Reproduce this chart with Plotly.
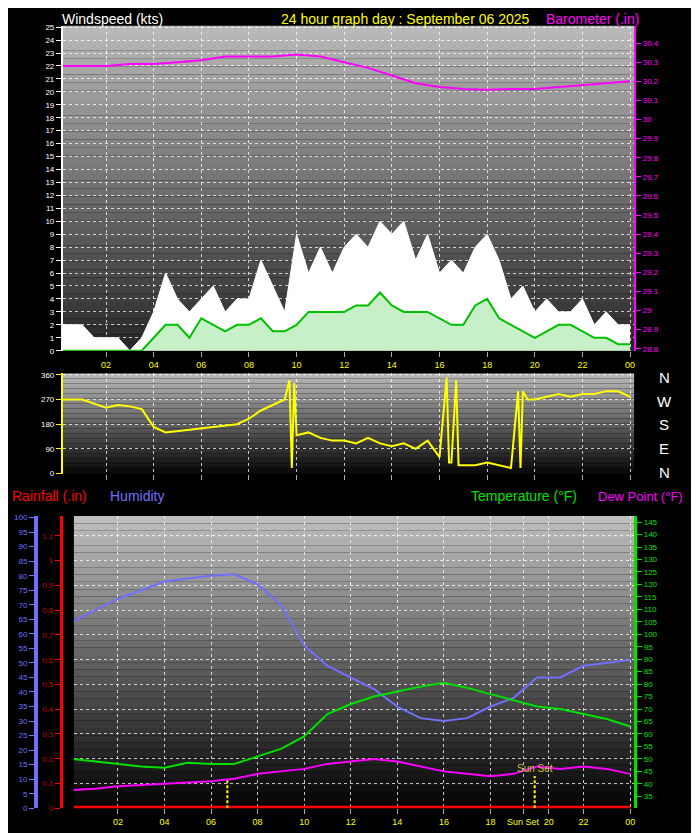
import plotly.graph_objects as go

# ---------------- data ----------------
hours = [i * 0.5 for i in range(49)]
gust = [2, 2, 2, 1, 1, 1, 0, 1, 3, 6, 4, 3, 4, 5, 3, 4, 4, 7, 5, 3,
        9, 6, 8, 6, 8, 9, 8, 10, 9, 10, 7, 9, 6, 7, 6, 8, 9, 7, 4, 5,
        3, 4, 3, 3, 4, 2, 3, 2, 2]
avg = [0, 0, 0, 0, 0, 0, 0, 0, 1, 2, 2, 1, 2.5, 2, 1.5, 2, 2, 2.5, 1.5, 1.5,
       2, 3, 3, 3, 3, 3.5, 3.5, 4.5, 3.5, 3, 3, 3, 2.5, 2, 2, 3.5, 4, 2.5, 2, 1.5,
       1, 1.5, 2, 2, 1.5, 1, 1, 0.5, 0.5]
baro_h = list(range(25))
baro = [30.28, 30.28, 30.28, 30.29, 30.29, 30.30, 30.31, 30.33, 30.33, 30.33, 30.34,
        30.33, 30.30, 30.27, 30.23, 30.19, 30.17, 30.16, 30.155, 30.16, 30.16,
        30.17, 30.18, 30.19, 30.20]
dir_h = [0, 1, 1.5, 2, 2.5, 3, 3.5, 4, 4.5, 5, 5.5, 6, 6.5, 7, 7.5, 8, 8.5, 9, 9.5,
         9.7, 9.8, 9.9, 10, 10.5, 11, 11.5, 12, 12.5, 13, 13.5, 14, 14.5, 15, 15.5,
         16, 16.3, 16.4, 16.5, 16.7, 16.8, 17, 17.5, 18, 18.5, 19, 19.3, 19.4, 19.5,
         19.7, 20, 20.5, 21, 21.5, 22, 22.5, 23, 23.5, 24]
wdir = [270, 270, 255, 240, 250, 245, 235, 170, 150, 155, 160, 165, 170, 175, 180,
        200, 230, 250, 270, 340, 20, 330, 140, 150, 130, 120, 120, 110, 130, 110,
        100, 110, 90, 120, 60, 350, 40, 40, 340, 30, 30, 30, 40, 30, 20, 300, 20,
        300, 270, 270, 280, 290, 280, 290, 290, 300, 300, 280]
th = list(range(25))
humidity = [64, 68, 72, 75, 78, 79, 80, 80.5, 77, 70, 56, 49, 45, 41, 35, 31, 30,
            31, 35, 38, 45, 45, 49, 50, 51]
temp = [50, 49, 48, 47, 46.5, 48.5, 48, 48, 51, 54, 59, 68, 72, 75, 77, 79, 80.5,
        78.5, 76, 73.5, 71, 70, 68, 66, 63]
dew = [37.5, 38, 39, 39.5, 40, 40.5, 41, 42, 44, 45, 46, 48, 49, 50, 49, 47, 45,
       44, 43, 44, 47, 46, 47, 46, 44]
rain = [0] * 25
xticks_top = [2, 4, 6, 8, 10, 12, 14, 16, 18, 20, 22, 24]
xlabels_top = ["02", "04", "06", "08", "10", "12", "14", "16", "18", "20", "22", "00"]
xticks_bot = [2, 4, 6, 8, 10, 12, 14, 16, 18, 19.4, 20.5, 22, 24]
xlabels_bot = ["02", "04", "06", "08", "10", "12", "14", "16", "18", "Sun Set", "20", "22", "00"]
sunrise, sunset = 6.7, 19.9

W, H = 699, 833
def px(x): return x / W
def py(y): return 1 - y / H

FONT = "Liberation Sans"
fig = go.Figure()

# ---- top panel ----
fig.add_trace(go.Scatter(x=hours, y=gust, mode="lines", line=dict(color="white", width=1),
                         fill="tozeroy", fillcolor="white", xaxis="x", yaxis="y"))
fig.add_trace(go.Scatter(x=hours, y=avg, mode="lines", line=dict(color="#00c000", width=2),
                         fill="tozeroy", fillcolor="#c8f0c8", xaxis="x", yaxis="y"))
fig.add_trace(go.Scatter(x=baro_h, y=baro, mode="lines", line=dict(color="#ff00ff", width=2),
                         xaxis="x", yaxis="y2"))
# ---- middle panel ----
fig.add_trace(go.Scatter(x=dir_h, y=wdir, mode="lines", line=dict(color="yellow", width=2),
                         xaxis="x2", yaxis="y3"))
# ---- bottom panel ----
fig.add_trace(go.Scatter(x=th, y=humidity, mode="lines", line=dict(color="#7070ff", width=2),
                         xaxis="x3", yaxis="y4"))
fig.add_trace(go.Scatter(x=th, y=temp, mode="lines", line=dict(color="#00e000", width=2),
                         xaxis="x3", yaxis="y6"))
fig.add_trace(go.Scatter(x=th, y=dew, mode="lines", line=dict(color="#ff00ff", width=2),
                         xaxis="x3", yaxis="y6"))
fig.add_trace(go.Scatter(x=th, y=rain, mode="lines", line=dict(color="red", width=5),
                         xaxis="x3", yaxis="y5"))
fig.add_trace(go.Scatter(x=[sunrise, sunrise], y=[0, 0.12], mode="lines",
                         line=dict(color="yellow", width=2, dash="3px,2px"), xaxis="x3", yaxis="y5"))
fig.add_trace(go.Scatter(x=[sunset, sunset], y=[0, 0.13], mode="lines",
                         line=dict(color="yellow", width=2, dash="3px,2px"), xaxis="x3", yaxis="y5"))

# gradient backgrounds
shapes = []
def gradient(x0, x1, y0, y1, top, bottom, n=40):
    for i in range(n):
        f = i / (n - 1)
        c = int(top + (bottom - top) * f)
        ya = y0 + (y1 - y0) * i / n
        yb = y0 + (y1 - y0) * (i + 1) / n
        shapes.append(dict(type="rect", xref="paper", yref="paper", x0=px(x0), x1=px(x1),
                           y0=py(ya), y1=py(yb), fillcolor=f"rgb({c},{c},{c})",
                           line=dict(width=0), layer="below"))
gradient(55, 627, 15, 343, 185, 40)
gradient(55, 627, 366, 467, 185, 10)
gradient(66, 627, 510, 805, 190, 5)

tf = dict(family=FONT, size=8)
gridc = "rgba(255,255,255,0.75)"
common_x = dict(showgrid=True, gridcolor=gridc, griddash="dot", tickmode="array", tickangle=0,
                ticks="outside", tickcolor="#aaaaaa", zeroline=False,
                tickfont=dict(family=FONT, size=9, color="yellow"))
fig.update_layout(
    width=W, height=H, margin=dict(l=0, r=0, t=0, b=0),
    paper_bgcolor="black", plot_bgcolor="rgba(0,0,0,0)", showlegend=False, shapes=shapes,
    xaxis=dict(domain=[px(55), px(627)], range=[0.19, 24.17], anchor="y",
               tickvals=xticks_top, ticktext=xlabels_top, **common_x),
    yaxis=dict(domain=[py(343), py(15)], range=[0, 25.1], dtick=1, showgrid=True, gridcolor=gridc,
               griddash="dot", ticks="outside", tickcolor="white", showline=True, linecolor="white",
               linewidth=2, tickfont=dict(color="white", **tf), zeroline=False),
    yaxis2=dict(overlaying="y", side="right", range=[28.79, 30.49], dtick=0.1, showgrid=False,
                ticks="outside", tickcolor="#ff00ff", showline=True, linecolor="#ff00ff", linewidth=2,
                tickfont=dict(color="#ff00ff", **tf), zeroline=False),
    xaxis2=dict(domain=[px(55), px(627)], range=[0.19, 24.17], anchor="y3",
                tickvals=xticks_top, ticktext=[""] * len(xticks_top), **{k: v for k, v in common_x.items() if k != "tickfont"}),
    yaxis3=dict(domain=[py(467), py(366)], range=[0, 365], tickvals=[0, 90, 180, 270, 360],
                showgrid=True, gridcolor=gridc, griddash="dot", ticks="outside", tickcolor="yellow",
                showline=True, linecolor="yellow", linewidth=2, tickfont=dict(color="white", **tf),
                zeroline=False),
    xaxis3=dict(domain=[px(66), px(627)], range=[0.11, 24.17], anchor="y5",
                tickvals=xticks_bot, ticktext=xlabels_bot, **common_x),
    yaxis4=dict(anchor="free", position=px(28), range=[0, 100.5], dtick=5, showgrid=False,
                ticks="outside", tickcolor="#7070ff", showline=True, linecolor="#7070ff", linewidth=4,
                tickfont=dict(color="#7070ff", **tf), zeroline=False, overlaying="y5"),
    yaxis5=dict(domain=[py(805), py(510)], range=[0, 1.18], dtick=0.1, showgrid=True,
                gridcolor=gridc, griddash="dot", ticks="outside", tickcolor="red", showline=True,
                linecolor="red", linewidth=3, tickfont=dict(color="#c00000", **tf), zeroline=False,
                tickvals=[0.1 * i for i in range(12)],
                ticktext=["0", "0.1", "0.2", "0.3", "0.4", "0.5", "0.6", "0.7", "0.8", "0.9", "1", "1.1"]),
    yaxis6=dict(overlaying="y5", side="right", anchor="x3", range=[30.2, 147.4], dtick=5, showgrid=False,
                ticks="outside", tickcolor="#00e000", showline=True, linecolor="#00e000", linewidth=3,
                tickfont=dict(color="#00e000", **tf), zeroline=False),
)

ann = [
    ("Windspeed (kts)", 52, 8, "white", "left", 14),
    ("24 hour graph day : September 06 2025", 398, 8, "yellow", "center", 14),
    ("Barometer (.in)", 634, 8, "#ff00ff", "right", 14),
    ("Rainfall (.in)", 2, 490, "red", "left", 14),
    ("Humidity", 100, 490, "#7070ff", "left", 14),
    ("Temperature (°F)", 462, 490, "#00e000", "left", 14),
    ("Dew Point (°F)", 678, 490, "#ff00ff", "right", 13),
    ("N", 657, 370, "white", "center", 15),
    ("W", 657, 394, "white", "center", 15),
    ("S", 657, 418, "white", "center", 15),
    ("E", 657, 442, "white", "center", 15),
    ("N", 657, 466, "white", "center", 15),
]
for t, x, y, c, a, s in ann:
    fig.add_annotation(text=t, x=px(x), y=py(y), xref="paper", yref="paper", showarrow=False,
                       xanchor=a, yanchor="middle", font=dict(family=FONT, size=s, color=c))
fig.add_annotation(text="Sun Set", x=sunset, y=46, xref="x3", yref="y6", showarrow=False,
                   font=dict(family=FONT, size=10, color="#d0c040"))
fig.write_html("out.html")
